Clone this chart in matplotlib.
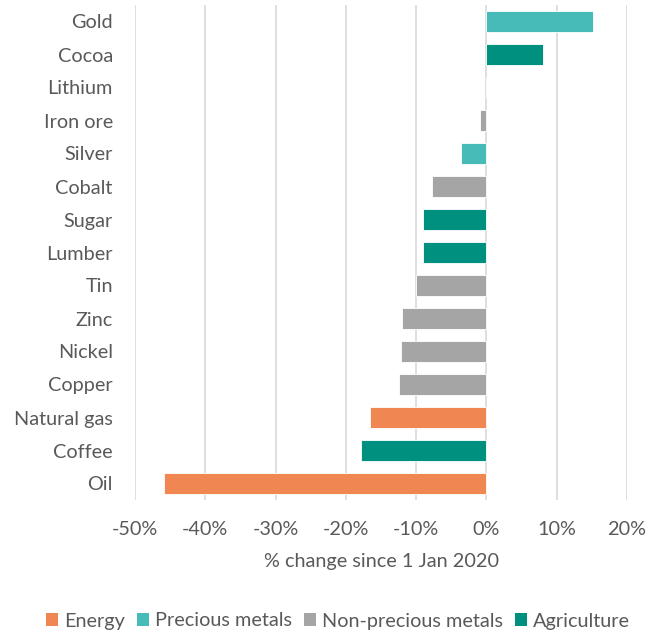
import matplotlib
matplotlib.use("Agg")
import matplotlib.pyplot as plt
from matplotlib.patches import Patch

categories = ["Gold", "Cocoa", "Lithium", "Iron ore", "Silver", "Cobalt", "Sugar",
              "Lumber", "Tin", "Zinc", "Nickel", "Copper", "Natural gas", "Coffee", "Oil"]
values = [15.2, 8.1, 0.0, -0.9, -3.6, -7.8, -9.0, -9.0, -10.0, -12.0, -12.1, -12.5, -16.5, -17.9, -45.9]
groups = ["Precious metals", "Agriculture", "Non-precious metals", "Non-precious metals",
          "Precious metals", "Non-precious metals", "Agriculture", "Agriculture",
          "Non-precious metals", "Non-precious metals", "Non-precious metals",
          "Non-precious metals", "Energy", "Agriculture", "Energy"]
group_order = ["Energy", "Precious metals", "Non-precious metals", "Agriculture"]
group_colors = {"Energy": "#F08753", "Precious metals": "#47BBB8",
                "Non-precious metals": "#A5A5A5", "Agriculture": "#00907F"}
xticks = [-50, -40, -30, -20, -10, 0, 10, 20]

plt.rcParams['font.family'] = ['Lato', 'DejaVu Sans']
txt = "#595959"
fs = 14.3

fig = plt.figure(figsize=(6.48, 6.33), dpi=100)
ax = fig.add_axes([135/648, 1 - 500/633, (627-135)/648, (500-5)/633])

n = len(categories)
ypos = list(range(n))
ax.barh(ypos, values, height=0.66, color=[group_colors[g] for g in groups],
        edgecolor="#FFFFFF", linewidth=0.6, zorder=3)
ax.set_ylim(n - 0.5, -0.5)
ax.set_xlim(-50, 20)
ax.set_xticks(xticks)
ax.set_xticklabels([f"{t}%" for t in xticks], fontsize=fs, color=txt)
ax.set_yticks(ypos)
ax.set_yticklabels(categories, fontsize=fs, color=txt)
ax.grid(axis="x", color="#D9D9D9", linewidth=1.2, zorder=0)
for s in ax.spines.values():
    s.set_visible(False)
ax.tick_params(length=0)
ax.tick_params(axis="y", pad=16)
ax.tick_params(axis="x", pad=15)
ax.set_xlabel("% change since 1 Jan 2020", fontsize=fs, color=txt, labelpad=11)

handles = [Patch(facecolor=group_colors[g], label=g) for g in group_order]
fig.legend(handles=handles, loc="center", bbox_to_anchor=(338/648, 1 - 621/633), ncol=4,
           frameon=False, fontsize=fs, labelcolor=txt, handlelength=0.6, handleheight=0.6,
           handletextpad=0.3, columnspacing=0.6)

fig.savefig("out.png", dpi=100)
